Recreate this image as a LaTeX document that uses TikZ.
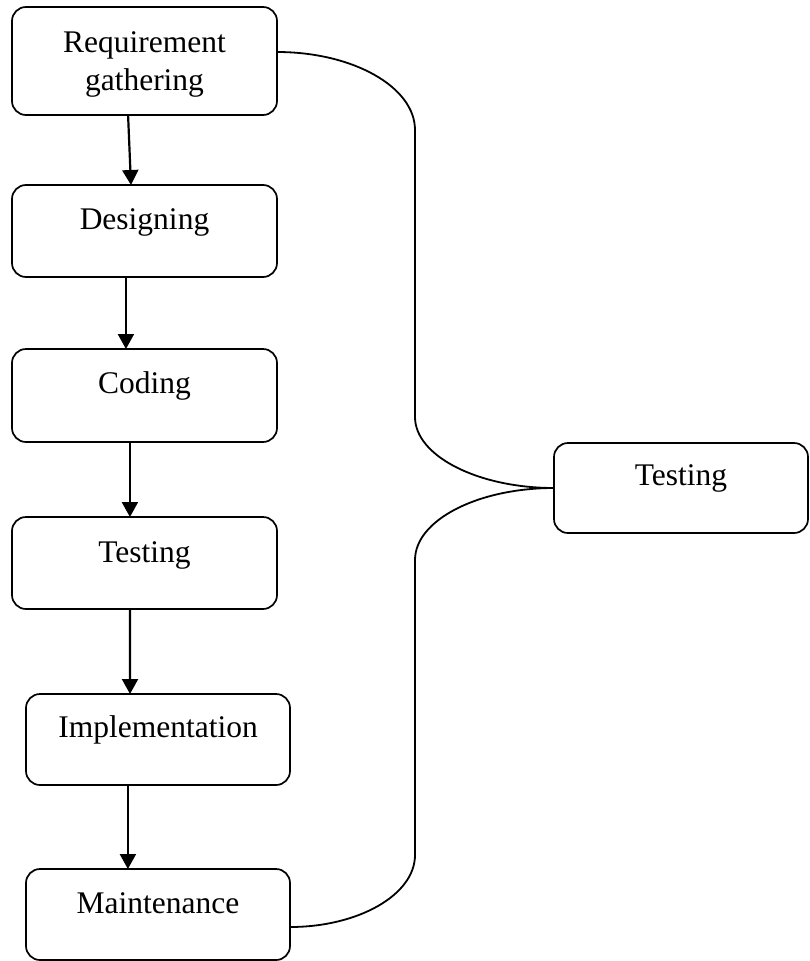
\documentclass[tikz,border=0pt]{standalone}
\usepackage{fontspec}
\setmainfont{Liberation Serif}
\usetikzlibrary{arrows.meta,calc}
\begin{document}
\begin{tikzpicture}[x=1pt,y=-1pt,
  box/.style={draw,line width=1.7pt,rounded corners=14pt,anchor=north west,inner sep=0pt,outer sep=0pt},
  lbl/.style={font=\fontsize{31.5}{37}\selectfont,anchor=base,inner sep=0pt},
  flow/.style={line width=2.2pt,-{Triangle[length=15pt,width=16pt]}},
  conn/.style={line width=1.8pt}]
\useasboundingbox (0,0) rectangle (809,961);

% boxes
\node[box,minimum width=265pt,minimum height=108pt] (req) at (12,7) {};
\node[box,minimum width=265pt,minimum height=92pt] (des) at (12,185) {};
\node[box,minimum width=265pt,minimum height=93pt] (cod) at (12,349) {};
\node[box,minimum width=265pt,minimum height=92pt] (tst) at (12,517) {};
\node[box,minimum width=264pt,minimum height=91pt] (imp) at (26,694) {};
\node[box,minimum width=264pt,minimum height=91pt] (mnt) at (26,869) {};
\node[box,minimum width=254pt,minimum height=90pt] (tst2) at (554,443) {};

% labels
\node[lbl] (treq1) at ($(req.north)+(0,45)$) {Requirement};
\node[lbl] (treq2) at ($(req.north)+(0,83)$) {gathering};
\node[lbl] (tdes) at ($(des.north)+(0,44)$) {Designing};
\node[lbl] (tcod) at ($(cod.north)+(0,44)$) {Coding};
\node[lbl] (ttst) at ($(tst.north)+(0,45)$) {Testing};
\node[lbl] (timp) at ($(imp.north)+(0,43)$) {Implementation};
\node[lbl] (tmnt) at ($(mnt.north)+(0,44)$) {Maintenance};
\node[lbl] (ttst2) at ($(tst2.north)+(0,42)$) {Testing};

% flow arrows
\draw[flow] ($(req.south west)!0.438!(req.south east)$) -- ($(des.north west)!0.449!(des.north east)$);
\draw[flow] ($(des.south west)!0.430!(des.south east)$) -- ($(cod.north west)!0.430!(cod.north east)$);
\draw[flow] ($(cod.south west)!0.445!(cod.south east)$) -- ($(tst.north west)!0.445!(tst.north east)$);
\draw[flow] ($(tst.south west)!0.445!(tst.south east)$) -- ($(imp.north west)!0.394!(imp.north east)$);
\draw[flow] ($(imp.south west)!0.386!(imp.south east)$) -- ($(mnt.north west)!0.386!(mnt.north east)$);

% connectors to the right Testing box
\coordinate (b1) at (415,130);
\coordinate (b2) at (415,417);
\coordinate (b3) at (415,560);
\coordinate (b4) at (415,855);
\draw[conn] ($(req.north east)+(0,45)$) .. controls +(76,0) and +(0,-43) .. (b1)
  -- (b2) .. controls +(0,39) and +(-76,0) .. (tst2.west);
\draw[conn] (tst2.west) .. controls +(-76,0) and +(0,-40) .. (b3)
  -- (b4) .. controls +(0,40) and +(68,0) .. ($(mnt.south east)+(0,-33)$);
\end{tikzpicture}
\end{document}
